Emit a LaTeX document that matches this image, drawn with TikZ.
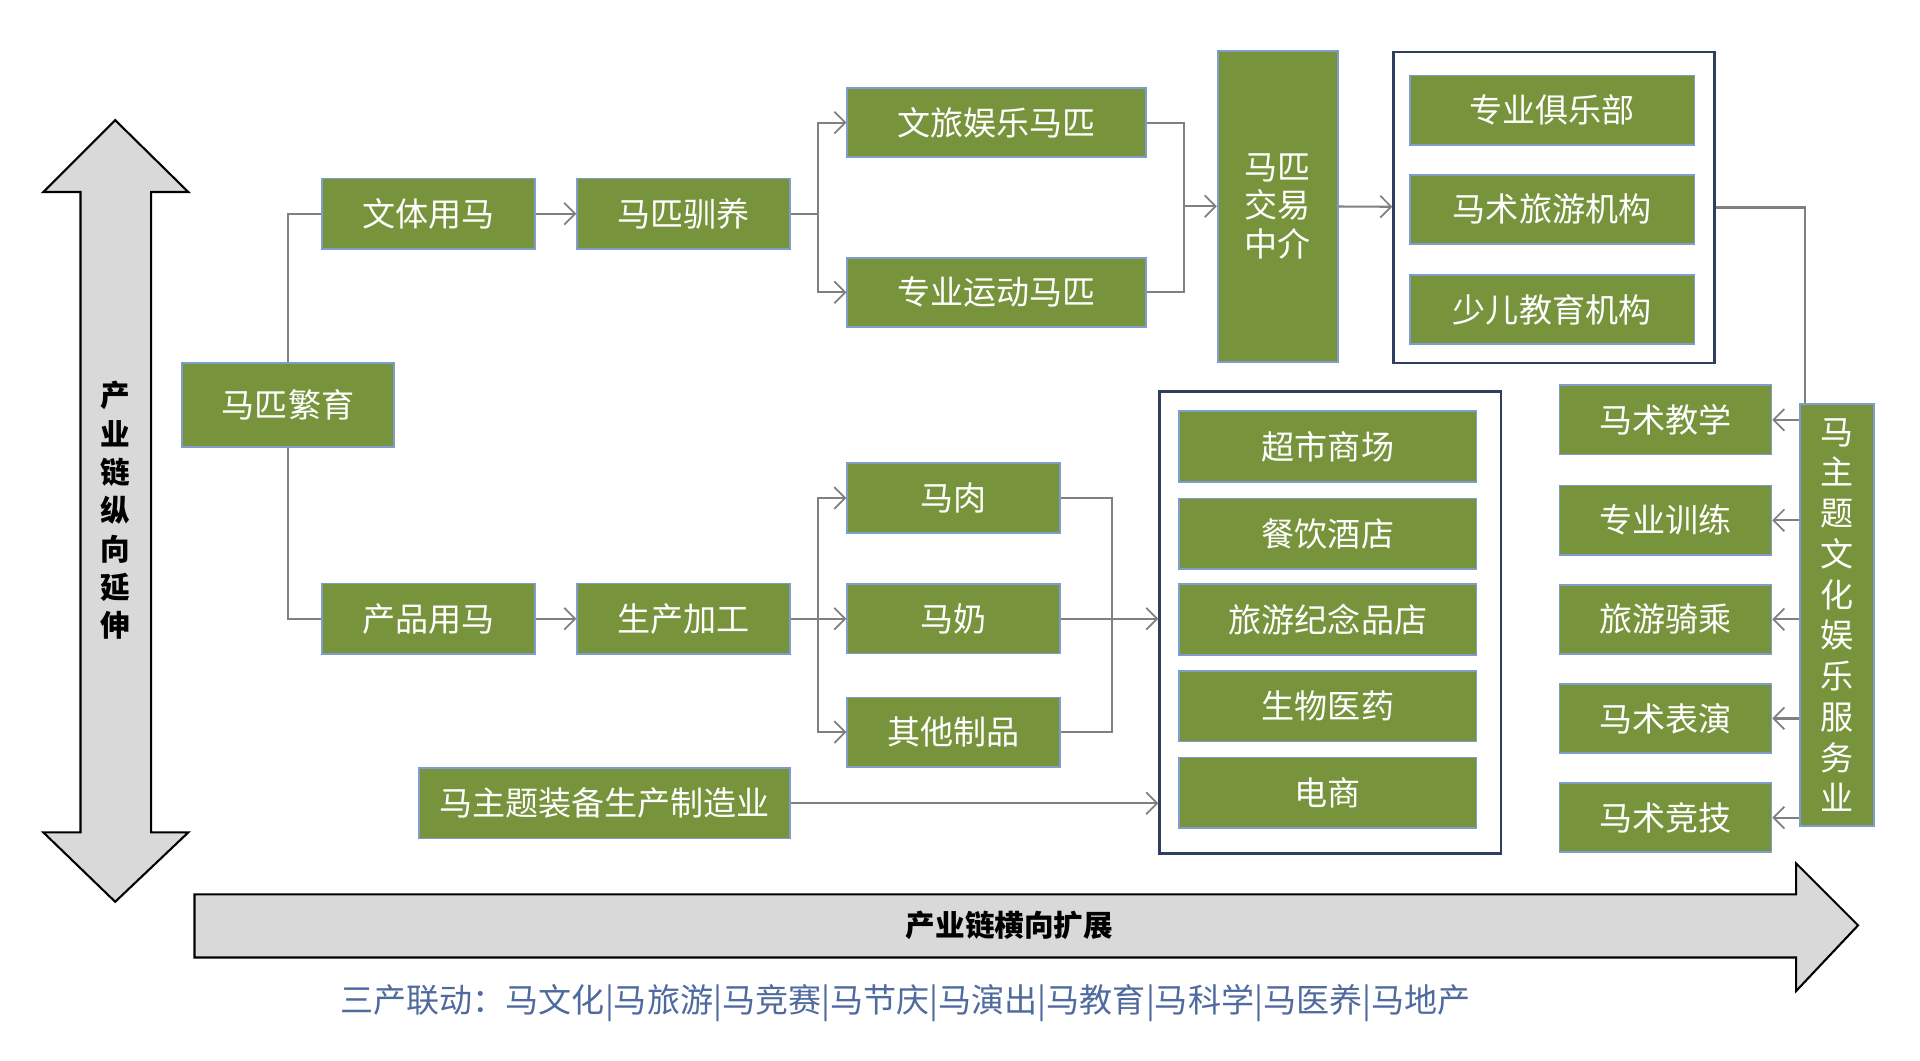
\documentclass[tikz,border=0pt]{standalone}
\usepackage{fontspec}
\newfontfamily\cjk{Noto Sans CJK SC}
\usepackage{tikz}
\usetikzlibrary{arrows.meta}
\usetikzlibrary{calc}
\definecolor{horsegreen}{HTML}{77933C}
\definecolor{boxline}{HTML}{7F9CCF}
\definecolor{frameline}{HTML}{2F3F5F}
\definecolor{linkgray}{HTML}{808080}
\definecolor{arrowgray}{HTML}{D9D9D9}
\definecolor{notecolor}{HTML}{4F6A9E}

\begin{document}
\begin{tikzpicture}[
  x=0.25mm, y=-0.25mm,
  > = {Straight Barb[length=2.2mm,width=4.4mm,line width=1pt]},
  sz/.style 2 args = {minimum width=#1*0.25mm, minimum height=#2*0.25mm},
  box/.style = {draw=boxline, line width=1pt, fill=horsegreen, text=white, inner sep=0pt,
                font=\cjk\fontsize{19}{23}\selectfont, align=center},
  frame/.style = {draw=frameline, line width=1.3pt, inner sep=0pt},
  link/.style = {draw=linkgray, line width=1.2pt},
  bigarrow/.style = {draw=black, line width=1.2pt, fill=arrowgray}
  ]
	\useasboundingbox (0,0) rectangle (1550,856);

	% axes
	\draw[bigarrow] (93,97) -- (152,155) -- (122,155) -- (122,672) -- (152,672) -- (93,728)
		-- (35,672) -- (65,672) -- (65,155) -- (35,155) -- cycle;
	\draw[bigarrow] (157,722) -- (1450,722) -- (1450,697) -- (1500,747) -- (1450,800)
		-- (1450,773) -- (157,773) -- cycle;
	\node[font=\cjk\bfseries\fontsize{17}{22}\selectfont, align=center] (vlabel) at (93,412)
		{产\\业\\链\\纵\\向\\延\\伸};
	\node[font=\cjk\bfseries\fontsize{17}{20}\selectfont] (hlabel) at (815,747) {产业链横向扩展};
	\node[font=\cjk\fontsize{19}{22}\selectfont, text=notecolor] (note) at (731,810)
		{三产联动：马文化|马旅游|马竞赛|马节庆|马演出|马教育|马科学|马医养|马地产};

	% upper chain
	\node[box, sz={171}{68}] (fanyu) at (232.5,327) {马匹繁育};
	\node[box, sz={172}{57}] (wenti) at (346,172.5) {文体用马};
	\node[box, sz={172}{57}] (xunyang) at (552,172.5) {马匹驯养};
	\node[box, sz={241}{56}] (wenlv) at (804.5,99) {文旅娱乐马匹};
	\node[box, sz={241}{56}] (yundong) at (804.5,236) {专业运动马匹};
	\node[box, sz={97}{251}, font=\cjk\fontsize{19}{22}\selectfont] (jiaoyi) at (1031.5,166.5) {马匹\\交易\\中介};
	\node[frame, sz={259}{251}] (orgs) at (1254.5,167.5) {};
	\node[box, sz={230}{56}] (club) at (1253,89) {专业俱乐部};
	\node[box, sz={230}{56}] (tour) at (1253,169) {马术旅游机构};
	\node[box, sz={230}{56}] (kids) at (1253,250) {少儿教育机构};

	% lower chain
	\node[box, sz={172}{57}] (chanpin) at (346,499.5) {产品用马};
	\node[box, sz={172}{57}] (jiagong) at (552,499.5) {生产加工};
	\node[box, sz={172}{56}] (rou) at (770,402) {马肉};
	\node[box, sz={172}{56}] (nai) at (770,499.5) {马奶};
	\node[box, sz={172}{56}] (qita) at (770,591) {其他制品};
	\node[box, sz={300}{57}] (zhuangbei) at (488,648.5) {马主题装备生产制造业};
	\node[frame, sz={276}{373}] (shops) at (1074,502.5) {};
	\node[box, sz={240}{57}] (market) at (1072,360.5) {超市商场};
	\node[box, sz={240}{57}] (canyin) at (1072,431) {餐饮酒店};
	\node[box, sz={240}{57}] (jinian) at (1072,500) {旅游纪念品店};
	\node[box, sz={240}{57}] (yiyao) at (1072,570) {生物医药};
	\node[box, sz={240}{57}] (dianshang) at (1072,640) {电商};

	% services
	\node[box, sz={171}{56}] (jiaoxue) at (1344.5,339) {马术教学};
	\node[box, sz={171}{56}] (xunlian) at (1344.5,420) {专业训练};
	\node[box, sz={171}{56}] (qicheng) at (1344.5,500) {旅游骑乘};
	\node[box, sz={171}{56}] (biaoyan) at (1344.5,580) {马术表演};
	\node[box, sz={171}{56}] (jingji) at (1344.5,660) {马术竞技};
	\node[box, sz={60}{341}, font=\cjk\fontsize{19}{23.4}\selectfont] (zhuti) at (1483,496.5)
		{马\\主\\题\\文\\化\\娱\\乐\\服\\务\\业};

	% connectors
	\draw[link] (fanyu.north) |- (wenti.west);
	\draw[link] (fanyu.south) |- (chanpin.west);
	\draw[link,->] (wenti) -- (xunyang);
	\draw[link,->] (chanpin) -- (jiagong);
	\draw[link] (xunyang.east) -- ++(22,0) coordinate (up);
	\draw[link,->] (up) |- (wenlv.west);
	\draw[link,->] (up) |- (yundong.west);
	\draw[link] (wenlv.east) -- ++(30,0) coordinate (merge) |- (yundong.east);
	\draw[link,->] (merge |- jiaoyi) -- (jiaoyi.west);
	\draw[link,->] (jiaoyi) -- (orgs);
	\draw[link] (orgs.east) -- ++(72,0) coordinate (drop) -- (drop |- zhuti.north);
	\foreach \s in {jiaoxue,xunlian,qicheng,biaoyan,jingji}
		\draw[link,->] (zhuti.west |- \s) -- (\s.east);
	\draw[link] (jiagong.east) -- ++(22,0) coordinate (low);
	\draw[link,->] (low) |- (rou.west);
	\draw[link,->] (low) -- (nai.west);
	\draw[link,->] (low) |- (qita.west);
	\draw[link] (rou.east) -- ++(41,0) coordinate (gather) |- (qita.east);
	\draw[link,->] (nai) -- (shops.west |- nai);
	\draw[link,->] (zhuangbei) -- (shops.west |- zhuangbei);

\end{tikzpicture}
\end{document}
